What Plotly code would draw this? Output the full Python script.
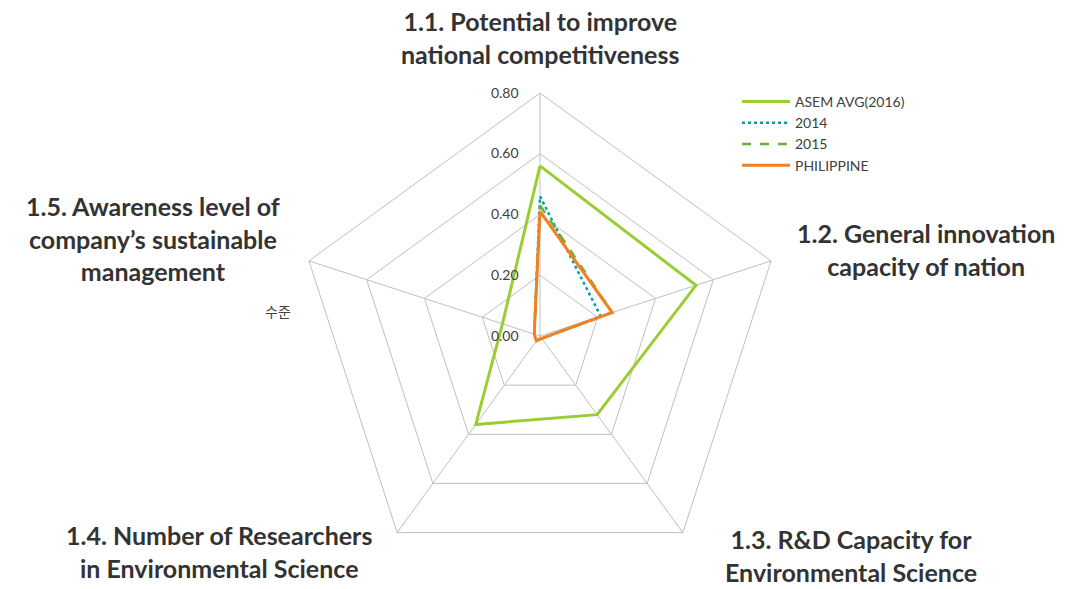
import plotly.graph_objects as go

categories = [
    "1.1. Potential to improve<br>national competitiveness",
    "1.2. General innovation<br>capacity of nation",
    "1.3. R&D Capacity for<br>Environmental Science",
    "1.4. Number of Researchers<br>in Environmental Science",
    "1.5. Awareness level of<br>company\u2019s sustainable<br>management",
]
series_names = ["ASEM AVG(2016)", "2014", "2015", "PHILIPPINE"]
asem_avg = [0.56, 0.54, 0.32, 0.36, 0.13]
y2014 = [0.46, 0.21, 0.01, 0.02, 0.02]
y2015 = [0.43, 0.25, 0.01, 0.02, 0.02]
philippine = [0.41, 0.25, 0.01, 0.02, 0.02]
radial_ticks = [0.0, 0.2, 0.4, 0.6, 0.8]
axis_title = "수준"

W, H = 1077, 589
cx, cy, R = 540, 336, 243

styles = [
    dict(color="#9ACD32", width=3, dash="solid"),
    dict(color="#00A3A0", width=2.5, dash="dot"),
    dict(color="#6AAE3E", width=2.5, dash="dash"),
    dict(color="#F28021", width=3, dash="solid"),
]
keys = ["c%d" % i for i in range(len(categories))]

fig = go.Figure()
for name, vals, st in zip(series_names, [asem_avg, y2014, y2015, philippine], styles):
    fig.add_trace(go.Scatterpolar(
        r=vals + vals[:1], theta=keys + keys[:1], mode="lines", name=name,
        line=dict(color=st["color"], width=st["width"], dash=st["dash"]),
    ))

grid = "#BFBFBF"
fig.update_layout(
    width=W, height=H,
    margin=dict(l=0, r=0, t=0, b=0),
    paper_bgcolor="white", plot_bgcolor="white",
    showlegend=True,
    legend=dict(x=737 / W, y=1 - 86 / H, xanchor="left", yanchor="top",
                font=dict(family="Lato, Open Sans, sans-serif", size=14, color="#404040"),
                tracegroupgap=0, itemwidth=48, bgcolor="rgba(0,0,0,0)"),
    polar=dict(
        domain=dict(x=[(cx - R) / W, (cx + R) / W], y=[1 - (cy + R) / H, 1 - (cy - R) / H]),
        gridshape="linear",
        bgcolor="white",
        radialaxis=dict(range=[0, 0.8], tickvals=radial_ticks, tickformat=".2f",
                        angle=90, tickangle=90, side="counterclockwise",
                        showline=False, gridcolor=grid, gridwidth=1,
                        ticks="outside", ticklen=16, tickcolor="rgba(0,0,0,0)",
                        tickfont=dict(family="Lato, Open Sans, sans-serif", size=14, color="#404040")),
        angularaxis=dict(direction="clockwise", rotation=90, categoryarray=keys,
                         categoryorder="array", showticklabels=False, ticks="",
                         linecolor=grid, linewidth=1, gridcolor=grid, gridwidth=1),
    ),
    font=dict(family="Lato, Open Sans, sans-serif"),
)

label_pos = [(540, 38), (926, 249), (851, 555), (219, 551), (153, 238)]
for txt, (x, y) in zip(categories, label_pos):
    fig.add_annotation(x=x / W, y=1 - y / H, xref="paper", yref="paper", text="<b>" + txt + "</b>",
                       showarrow=False, align="center", xanchor="center", yanchor="middle",
                       font=dict(family="Lato, Open Sans, sans-serif", size=25, color="#333333"))
fig.add_annotation(x=263 / W, y=1 - 311 / H, xref="paper", yref="paper", text=axis_title,
                   showarrow=False, font=dict(family="Noto Sans CJK KR", size=14, color="#404040"))

fig.write_html("out.html")
